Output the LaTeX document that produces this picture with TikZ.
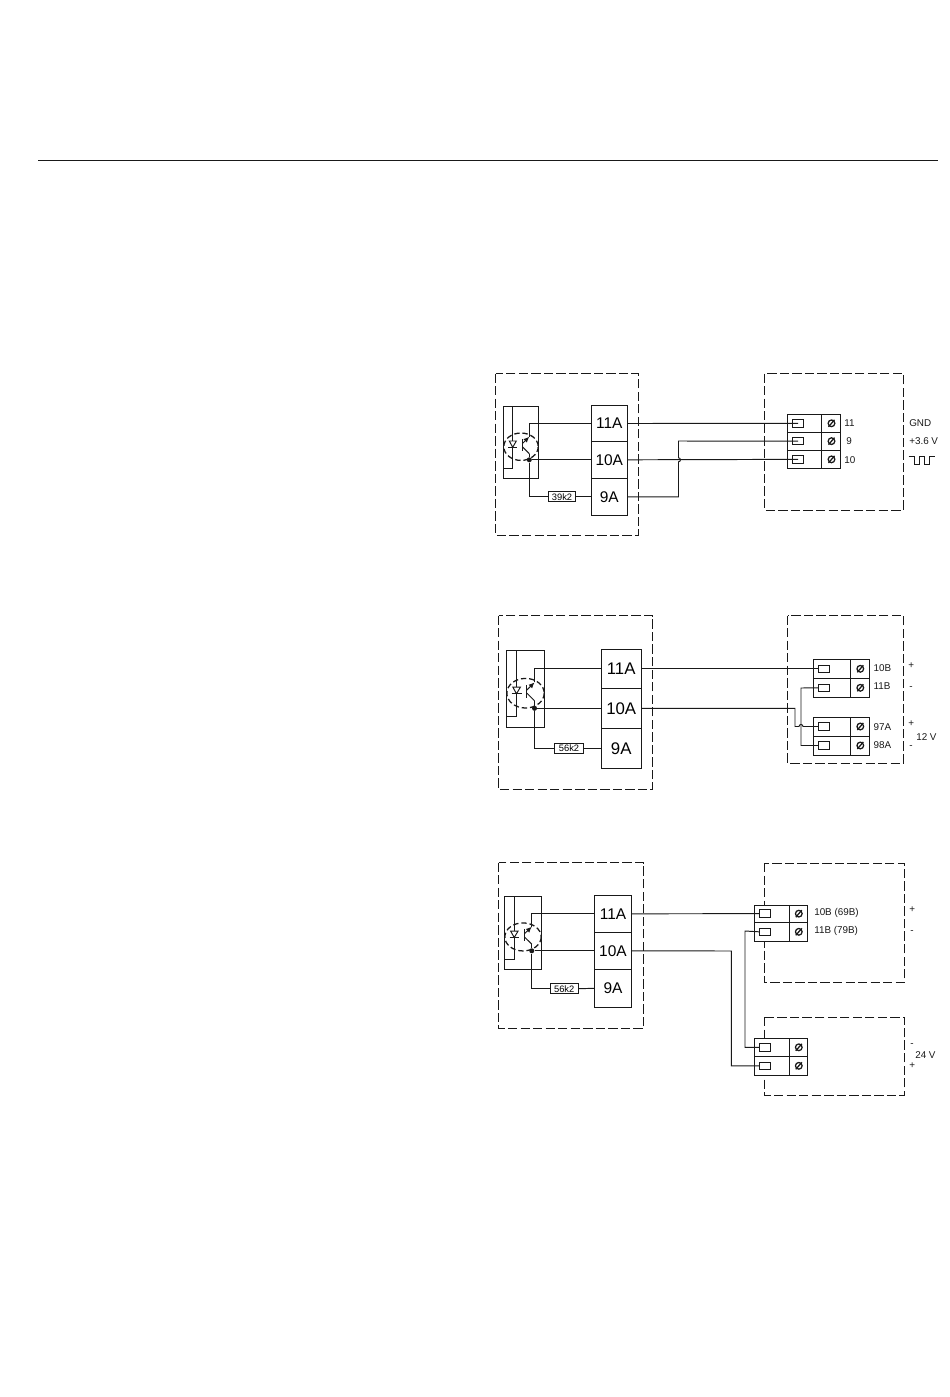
\documentclass[tikz,border=0pt]{standalone}
\usepackage{fontspec}
\setmainfont{Liberation Sans}
\usetikzlibrary{arrows.meta, calc, positioning}
\definecolor{ink}{gray}{0.1}
\tikzset{
	wire/.style={draw=ink, line width=0.72pt},
	dashbox/.style={draw=ink, line width=0.72pt, dash pattern=on 7pt off 2.4pt},
	cell/.style={draw=ink, fill=white, line width=0.75pt, inner sep=0pt, font=\fontsize{11.6}{13}\selectfont},
	resist/.style={draw=ink, fill=white, line width=0.6pt, inner sep=0pt, minimum height=7.6pt, font=\fontsize{7}{8}\selectfont},
	pinbox/.style={draw=ink, fill=white, line width=0.65pt, inner sep=0pt, minimum width=8.6pt, minimum height=5.6pt},
	lbl/.style={anchor=west, inner sep=0pt, text=ink, font=\fontsize{7.4}{9}\selectfont},
	junction/.style={circle, fill=ink, inner sep=0pt, minimum size=3.8pt}
}
% #1 name, #2 x, #3 y, #4 xscale, #5 yscale
\newcommand{\optocoupler}[5]{
	\begin{scope}[shift={(#2,#3)}, xscale=#4, yscale=#5]
		\draw[wire] (0,0) rectangle (35,71.6);
		\draw[wire] (9.4,0) -- (9.4,40.6) -- (9.4,61.6) -- (0,61.6);
		\draw[wire, fill=white] (6,34.3) -- (13,34.3) -- (9.4,40.6) -- cycle;
		\draw[wire] (5,40.6) -- (14,40.6);
		\draw[draw=ink, line width=0.95pt, dash pattern=on 4pt off 2.2pt] (17.7,40) ellipse [x radius=17.2, y radius=13.7];
		\draw[wire] (19,32.3) -- (19,44.3);
		\draw[wire, -{Latex[length=4.4pt, width=3.8pt]}] (19,37) -- (26,30);
		\draw[wire] (19,40) -- (26,47);
		\coordinate (#1c) at (26,30);
		\coordinate (#1b) at (26,47);
	\end{scope}
}
% #1 name, #2 left, #3 middle, #4 right, #5 top, #6 bottom
\newcommand{\clamprow}[6]{
	\draw[wire, fill=white] (#2,#5) rectangle (#4,#6);
	\draw[wire] (#3,#5) -- (#3,#6);
	\node[pinbox] (#1) at ({#2+10.8},{(#5+#6)/2}) {};
	\draw[draw=ink, line width=0.95pt] ({(#3+#4)/2+0.5},{(#5+#6)/2}) circle (2.5pt);
	\draw[draw=ink, line width=0.95pt] ({(#3+#4)/2-2.5},{(#5+#6)/2+3.5}) -- ({(#3+#4)/2+3.5},{(#5+#6)/2-3.5});
}

\begin{document}
\begin{tikzpicture}[x=0.75pt, y=-0.75pt]
	\useasboundingbox (0,0) rectangle (950,1397);
	\draw[draw=ink, line width=0.5pt] (38,160) -- (938,160);

	% first
	\draw[dashbox] (495.5,373.5) rectangle (638.5,535);
	\draw[dashbox] (764.5,373.5) rectangle (903.5,510);
	\optocoupler{oa}{503.3}{406.7}{1}{1}
	\node[cell, minimum width=27pt, minimum height=27.2pt] (a11) at (609.3,423.5) {11A};
	\node[cell, minimum width=27pt, minimum height=27.7pt] (a10) at (609.3,459.8) {10A};
	\node[cell, minimum width=27pt, minimum height=27.7pt] (a9) at (609.3,496.8) {9A};
	\node[junction] (oae) at (a10.west -| oac) {};
	\node[resist, minimum width=20.5pt] (ra) at (562,496.8) {39k2};
	\clamprow{pa11}{787.3}{821.7}{840.3}{414.3}{432.3}
	\clamprow{pa9}{787.3}{821.7}{840.3}{432.3}{450}
	\clamprow{pa10}{787.3}{821.7}{840.3}{450}{468.7}
	\node[lbl] (la11) at (844,423) {11};
	\node[lbl] (la9) at (846,441) {9};
	\node[lbl] (la10) at (844,460.5) {10};
	\node[lbl] (lgnd) at (909,423) {GND};
	\node[lbl] (lvcc) at (909,441) {+3.6 V};
	\draw[wire] (908.7,456.7) -- (914,456.7) -- (914,464.3) -- (919.3,464.3) -- (919.3,456.7) -- (924,456.7) -- (924,464.3) -- (929.3,464.3) -- (929.3,456.7) -- (935,456.7);
	\coordinate (ja) at (678.5,441);
	\coordinate (hopa) at (a10.east -| ja);
	\draw[wire] (oac) |- (a11.west);
	\draw[wire] (oab) -- (oae) -- (a10.west);
	\draw[wire] (oae) |- (ra.west);
	\draw[wire] (ra.east) -- (a9.west);
	\draw[wire] (a11.east) -- (pa11.center);
	\draw[wire] (a10.east) -- (pa10.center);
	\draw[wire] (a9.east) -| ([yshift=-1.5pt]hopa) arc[start angle=-90, end angle=90, radius=1.5pt] -- (ja) -- (pa9.center);

	% second
	\draw[dashbox] (498.5,615.5) rectangle (652.5,789.5);
	\draw[dashbox] (787.5,615.5) rectangle (903.5,763);
	\optocoupler{ob}{506.3}{650}{1.086}{1.08}
	\node[cell, minimum width=29.7pt, minimum height=29.3pt, font=\fontsize{12.6}{14}\selectfont] (b11) at (621.2,668.8) {11A};
	\node[cell, minimum width=29.7pt, minimum height=30pt, font=\fontsize{12.6}{14}\selectfont] (b10) at (621.2,708.3) {10A};
	\node[cell, minimum width=29.7pt, minimum height=30pt, font=\fontsize{12.6}{14}\selectfont] (b9) at (621.2,748.3) {9A};
	\node[junction] (obe) at (b10.west -| obc) {};
	\node[resist, minimum width=22pt] (rb) at (569,748.3) {56k2};
	\clamprow{pb10}{813.3}{850.3}{869.3}{659.3}{678.3}
	\clamprow{pb11}{813.3}{850.3}{869.3}{678.3}{697.3}
	\clamprow{pb97}{813.3}{850.3}{869.3}{717}{736}
	\clamprow{pb98}{813.3}{850.3}{869.3}{736}{755}
	\node[lbl] (lb10) at (873.3,668) {10B};
	\node[lbl] (lb11) at (873.3,686) {11B};
	\node[lbl] (lb97) at (873.3,727) {97A};
	\node[lbl] (lb98) at (873.3,745) {98A};
	\node[lbl] (lbpa) at (908,666) {+};
	\node[lbl] (lbma) at (909,688) {-};
	\node[lbl] (lbpb) at (908,724) {+};
	\node[lbl] (lbmb) at (909,747) {-};
	\node[lbl] (lbv) at (916,736.7) {12 V};
	\coordinate (jb) at (795,708.3);
	\coordinate (kb) at (801,688);
	\coordinate (hopb) at (kb |- pb97.west);
	\draw[wire] (obc) |- (b11.west);
	\draw[wire] (obb) -- (obe) -- (b10.west);
	\draw[wire] (obe) |- (rb.west);
	\draw[wire] (rb.east) -- (b9.west);
	\draw[wire] (b11.east) -- (pb10.west);
	\draw[wire] (pb11.west) -- (kb) |- (pb98.west);
	\draw[wire] (b10.east) -- (jb) |- ([xshift=-1.5pt]hopb) arc[start angle=180, end angle=0, radius=1.5pt] -- (pb97.west);

	% third
	\draw[dashbox] (498.5,862.5) rectangle (643.5,1028.5);
	\draw[dashbox] (764.3,863) rectangle (904.3,982.3);
	\draw[dashbox] (764.3,1017) rectangle (904.3,1095);
	\optocoupler{oc}{504.3}{896}{1.057}{1.023}
	\node[cell, minimum width=28pt, minimum height=27.7pt] (c11) at (613,913.8) {11A};
	\node[cell, minimum width=28pt, minimum height=27.7pt] (c10) at (613,950.8) {10A};
	\node[cell, minimum width=28pt, minimum height=28.5pt] (c9) at (613,988.3) {9A};
	\node[junction] (oce) at (c10.west -| occ) {};
	\node[resist, minimum width=21pt] (rc) at (564.2,988.7) {56k2};
	\clamprow{pc10}{754.3}{789.3}{807.3}{905}{922.3}
	\clamprow{pc11}{754.3}{789.3}{807.3}{922.3}{941.3}
	\clamprow{pcm}{754.3}{789.3}{807.3}{1038.3}{1056.3}
	\clamprow{pcp}{754.3}{789.3}{807.3}{1056.3}{1075.3}
	\node[lbl] (lc10) at (814,913) {10B (69B)};
	\node[lbl] (lc11) at (814,930.7) {11B (79B)};
	\node[lbl] (lcpa) at (909,910) {+};
	\node[lbl] (lcma) at (910,932) {-};
	\node[lbl] (lcmb) at (910,1045) {-};
	\node[lbl] (lcv) at (915,1055) {24 V};
	\node[lbl] (lcpb) at (909,1065.7) {+};
	\coordinate (jc) at (731.3,951);
	\coordinate (kc) at (745,931);
	\draw[wire] (occ) |- (c11.west);
	\draw[wire] (ocb) -- (oce) -- (c10.west);
	\draw[wire] (oce) |- (rc.west);
	\draw[wire] (rc.east) -- (c9.west);
	\draw[wire] (c11.east) -- (pc10.west);
	\draw[wire] (c10.east) -- (jc) |- (pcp.west);
	\draw[wire] (pc11.west) -- (kc) |- (pcm.west);
\end{tikzpicture}
\end{document}
